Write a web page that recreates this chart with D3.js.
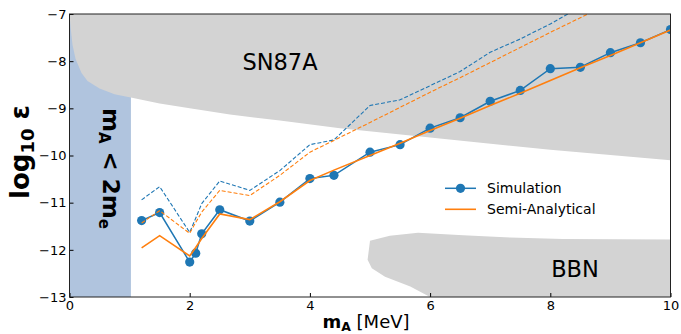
<!DOCTYPE html>
<html><head><meta charset="utf-8">
<script src="https://cdn.jsdelivr.net/npm/d3@7"></script>
<style>body{margin:0;background:#fff} text{font-family:"DejaVu Sans",sans-serif}</style>
</head><body><svg id="c" width="681" height="334"></svg>
<script>
// ---- data ----
const simMass  = [1.2,1.5,2.0,2.1,2.2,2.5,3.0,3.5,4.0,4.4,5.0,5.5,6.0,6.5,7.0,7.5,8.0,8.5,9.0,9.5,10.0];
const simEps   = [-11.38,-11.21,-12.26,-12.07,-11.66,-11.15,-11.39,-10.99,-10.49,-10.42,-9.93,-9.77,-9.42,-9.20,-8.85,-8.62,-8.16,-8.13,-7.82,-7.61,-7.33];
const simUpperMass = [1.2,1.5,2.0,2.1,2.2,2.5,3.0,3.5,4.0,4.4,5.0,5.5,6.0,6.5,7.0,7.5,8.0,8.5];
const simUpper = [-10.94,-10.66,-11.63,-11.33,-11.02,-10.54,-10.74,-10.32,-9.77,-9.67,-8.94,-8.82,-8.52,-8.22,-7.81,-7.53,-7.21,-6.85];
const semiMass = [1.2,1.5,2.0,2.1,2.2,2.5,3.0,3.5,4.0,4.4,5.0,5.5,6.0,6.5,7.0,7.5,8.0,8.5,9.0,9.5,10.0];
const semiEps  = [-11.96,-11.70,-12.13,-11.95,-11.76,-11.24,-11.36,-10.98,-10.53,-10.31,-10.00,-9.74,-9.47,-9.21,-8.94,-8.68,-8.41,-8.14,-7.88,-7.61,-7.34];
const semiUpperMass = [1.2,1.5,2.0,2.1,2.2,2.5,3.0,3.5,4.0,4.4,5.0,5.5,6.0,6.5,7.0,7.5,8.0,8.5,9.0];
const semiUpper = [-11.43,-11.17,-11.65,-11.42,-11.20,-10.74,-10.85,-10.42,-9.93,-9.68,-9.30,-8.98,-8.66,-8.35,-8.03,-7.71,-7.39,-7.08,-6.76];
// excluded regions
const snMass = [0,0.02,0.05,0.1,0.2,0.3,0.5,0.75,1.02,1.5,2.0,2.67,3.5,4.5,6.0,8.0,10.0];
const snEps  = [-7.0,-7.3,-7.65,-7.95,-8.25,-8.42,-8.58,-8.7,-8.77,-8.9,-9.0,-9.13,-9.26,-9.42,-9.62,-9.88,-10.1];
const bbnMass = [6.0,5.67,5.25,5.03,4.96,5.0,5.33,5.8,6.55,7.33,8.21,10.0,10.0];
const bbnEps  = [-13.0,-12.78,-12.57,-12.39,-12.21,-11.81,-11.70,-11.64,-11.69,-11.74,-11.77,-11.78,-13.0];
const pairMass = 1.022;
const xTicks = [0,2,4,6,8,10];
const yTicks = [-13,-12,-11,-10,-9,-8,-7];

// ---- layout ----
const L=69.5, R=670.5, T=14, B=297;
const svg = d3.select("#c");
const x = d3.scaleLinear().domain([0,10]).range([L,R]);
const y = d3.scaleLinear().domain([-13,-7]).range([B,T]);
const blue="#1f77b4", orange="#ff7f0e", gray="#d3d3d3", steel="#b0c4de";

svg.append("defs").append("clipPath").attr("id","clip")
  .append("rect").attr("x",L).attr("y",T).attr("width",R-L).attr("height",B-T);
const g = svg.append("g").attr("clip-path","url(#clip)");

// blue region m_A < 2 m_e
g.append("rect").attr("x",x(0)).attr("y",y(-7)).attr("width",x(pairMass)-x(0)).attr("height",y(-13)-y(-7)).attr("fill",steel);

// SN87A
const snPts = snMass.map((m,i)=>[m,snEps[i]]).concat([[10,-7],[0,-7]]);
g.append("path").attr("d", d3.line().x(d=>x(d[0])).y(d=>y(d[1])).curve(d3.curveLinearClosed)(snPts)).attr("fill",gray);
// BBN
const bbnPts = bbnMass.map((m,i)=>[m,bbnEps[i]]);
g.append("path").attr("d", d3.line().x(d=>x(d[0])).y(d=>y(d[1])).curve(d3.curveLinearClosed)(bbnPts)).attr("fill",gray);

const line = d3.line().x(d=>x(d[0])).y(d=>y(d[1]));
const zip=(a,b)=>a.map((v,i)=>[v,b[i]]);

g.append("path").attr("d",line(zip(simMass,simEps))).attr("fill","none").attr("stroke",blue).attr("stroke-width",1.5);
g.selectAll("circle.sim").data(zip(simMass,simEps)).join("circle").attr("class","sim")
  .attr("cx",d=>x(d[0])).attr("cy",d=>y(d[1])).attr("r",4.6).attr("fill",blue);
g.append("path").attr("d",line(zip(simUpperMass,simUpper))).attr("fill","none").attr("stroke",blue).attr("stroke-width",1.1).attr("stroke-dasharray","4,2");
g.append("path").attr("d",line(zip(semiMass,semiEps))).attr("fill","none").attr("stroke",orange).attr("stroke-width",1.6);
g.append("path").attr("d",line(zip(semiUpperMass,semiUpper))).attr("fill","none").attr("stroke",orange).attr("stroke-width",1.1).attr("stroke-dasharray","4,2");

// axes
const xa = svg.append("g").attr("transform",`translate(0,${B})`)
  .call(d3.axisBottom(x).tickValues(xTicks).tickSize(-4).tickPadding(3.5).tickFormat(d3.format("d")));
const ya = svg.append("g").attr("transform",`translate(${L},0)`)
  .call(d3.axisLeft(y).tickValues(yTicks).tickSize(-4).tickPadding(3).tickFormat(d=>"\u2212"+Math.abs(d)));
[xa,ya].forEach(a=>{a.select(".domain").remove(); a.selectAll("text").attr("font-size",13).attr("font-family","DejaVu Sans").attr("fill","#000"); a.selectAll("line").attr("stroke","#000");});
svg.append("rect").attr("x",L).attr("y",T).attr("width",R-L).attr("height",B-T).attr("fill","none").attr("stroke","#222").attr("stroke-width",1);

// region labels
svg.append("text").attr("x",280).attr("y",70).attr("text-anchor","middle").attr("font-size",22.5).text("SN87A");
svg.append("text").attr("x",575).attr("y",277).attr("text-anchor","middle").attr("font-size",22.5).text("BBN");
const ml = svg.append("text").attr("transform","translate(103,168.5) rotate(90)").attr("text-anchor","middle").attr("font-weight","bold").attr("font-size",23);
ml.append("tspan").text("m");
ml.append("tspan").attr("font-size",15).attr("dy",4).text("A");
ml.append("tspan").attr("dy",-4).text(" < 2m");
ml.append("tspan").attr("font-size",15).attr("dy",4).text("e");

// axis titles
const yl = svg.append("text").attr("transform","translate(29,152) rotate(-90)").attr("text-anchor","middle").attr("font-weight","bold").attr("font-size",26);
yl.append("tspan").text("log");
yl.append("tspan").attr("font-size",18).attr("dy",5).text("10");
yl.append("tspan").attr("dy",-5).text(" \u03b5");
const xl = svg.append("text").attr("x",366).attr("y",328).attr("text-anchor","middle").attr("font-size",18);
xl.append("tspan").attr("font-weight","bold").text("m");
xl.append("tspan").attr("font-weight","bold").attr("font-size",12.5).attr("dy",2.5).text("A");
xl.append("tspan").attr("dy",-2.5).text(" [MeV]");

// legend
const leg = svg.append("g");
leg.append("line").attr("x1",445).attr("x2",476).attr("y1",188.3).attr("y2",188.3).attr("stroke",blue).attr("stroke-width",1.5);
leg.append("circle").attr("cx",460.5).attr("cy",188.3).attr("r",4.6).attr("fill",blue);
leg.append("text").attr("x",487).attr("y",188.3).attr("dy","0.35em").attr("font-size",14).text("Simulation");
leg.append("line").attr("x1",445).attr("x2",476).attr("y1",209.3).attr("y2",209.3).attr("stroke",orange).attr("stroke-width",1.6);
leg.append("text").attr("x",487).attr("y",209.3).attr("dy","0.35em").attr("font-size",14).text("Semi-Analytical");
</script></body></html>
